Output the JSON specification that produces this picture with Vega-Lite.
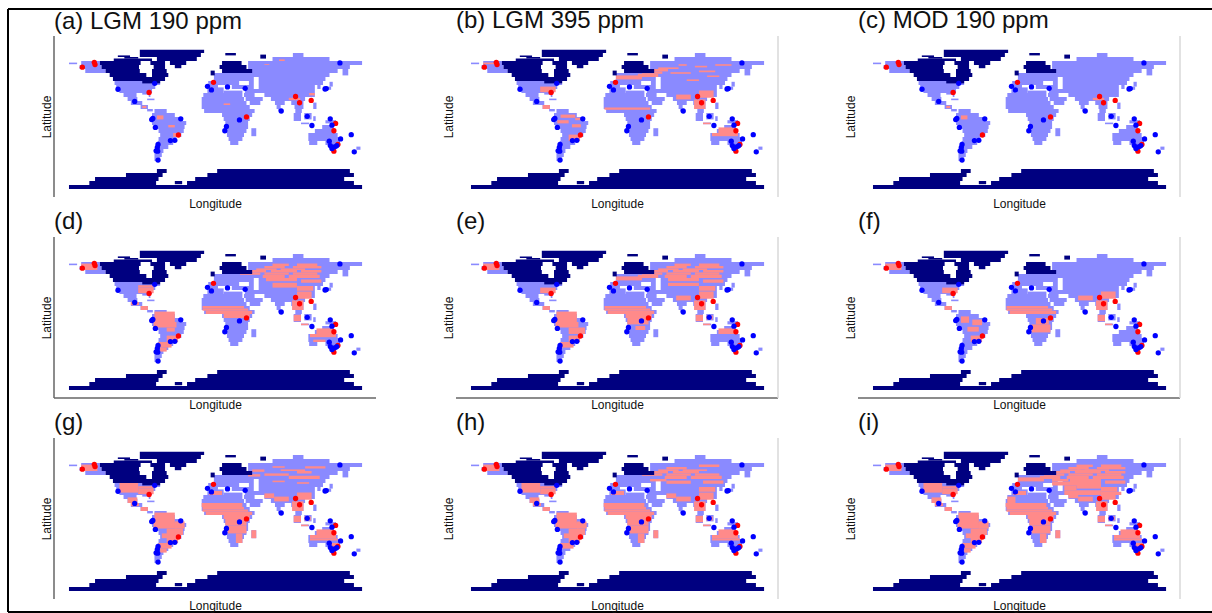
{"$schema":"https://vega.github.io/schema/vega-lite/v6.json","padding":{"left":7,"top":8,"right":0,"bottom":0},"background":"white","bounds":"flush","columns":3,"spacing":{"column":80,"row":40},
"config":{"view":{"stroke":null},"title":{"anchor":"start","frame":"group","fontSize":24,"font":"Liberation Sans","fontWeight":"normal","offset":2,"color":"#111"},"axis":{"labels":false,"ticks":false,"grid":false,"domain":false,"titleFont":"Liberation Sans","titleFontSize":12,"titleFontWeight":"normal","titleColor":"#111","titlePadding":1}},
"datasets":{
"fr":[{"x":-254.9,"e":1224.4,"y":135,"f":135,"c":"F"},{"x":-254.9,"e":1224.4,"y":-618.75,"f":-618.75,"c":"F"},{"x":-254.9,"e":-254.9,"y":135,"f":-618.75,"c":"F"}],
"l":[{"p":"adg","x":-198.4,"e":-198.4,"y":101.25,"f":-100,"c":"A"},{"p":"def","x":-198.4,"e":197.1,"y":-100,"f":-100,"c":"A"},{"p":"bcefhi","x":197.1,"e":197.1,"y":101.25,"f":-100,"c":"R"}],
"s":[{"x":-163.6,"y":62.3,"c":"r"},{"x":-148.9,"y":68.4,"c":"r"},{"x":-148,"y":65.5,"c":"r"},{"x":-81.6,"y":30.6,"c":"r"},{"x":-2.5,"y":43.3,"c":"r"},{"x":38,"y":0.1,"c":"r"},{"x":-45.6,"y":-22.5,"c":"r"},{"x":98.3,"y":25.6,"c":"r"},{"x":103.2,"y":17.8,"c":"r"},{"x":117.5,"y":20.7,"c":"r"},{"x":147.5,"y":-8,"c":"r"},{"x":145.4,"y":-17.2,"c":"r"},{"x":150.3,"y":-34.4,"c":"r"},{"x":145.4,"y":-42.7,"c":"r"},{"x":-119.8,"y":34.7,"c":"b"},{"x":-99.3,"y":19.5,"c":"b"},{"x":-74.7,"y":42.1,"c":"b"},{"x":-9.9,"y":38.4,"c":"b"},{"x":-5,"y":33.9,"c":"b"},{"x":14.7,"y":37.6,"c":"b"},{"x":36.4,"y":35.9,"c":"b"},{"x":80.7,"y":7.5,"c":"b"},{"x":112.6,"y":0.9,"c":"b"},{"x":118.4,"y":-10.6,"c":"b"},{"x":140.9,"y":-2.3,"c":"b"},{"x":143,"y":-10.2,"c":"b"},{"x":152.8,"y":67.6,"c":"b"},{"x":136,"y":35.5,"c":"b"},{"x":134.5,"y":35,"c":"b"},{"x":29.4,"y":-3.6,"c":"b"},{"x":13.4,"y":-11.8,"c":"b"},{"x":11.4,"y":-17.2,"c":"b"},{"x":-42.7,"y":-2.3,"c":"b"},{"x":-78.4,"y":-3.2,"c":"b"},{"x":-77,"y":-1.8,"c":"b"},{"x":-73.9,"y":-13,"c":"b"},{"x":-55.4,"y":-29.5,"c":"b"},{"x":-50,"y":-29.1,"c":"b"},{"x":-70.6,"y":-34.4,"c":"b"},{"x":-71.5,"y":-38,"c":"b"},{"x":-73,"y":-42.3,"c":"b"},{"x":-71,"y":-42.7,"c":"b"},{"x":-70.6,"y":-53.8,"c":"b"},{"x":153.6,"y":-27.4,"c":"b"},{"x":166.7,"y":-22.1,"c":"b"},{"x":170.4,"y":-43.5,"c":"b"},{"x":139.7,"y":-30.3,"c":"b"},{"x":141,"y":-35.7,"c":"b"},{"x":143,"y":-39.4,"c":"b"},{"x":146.2,"y":-37.3,"c":"b"},{"x":149,"y":-35.7,"c":"b"}],
"m":[
{"x":-180,"e":-170,"y":68,"f":66,"c":"L"},{"x":-165,"e":-142,"y":70,"f":65,"c":"L"},{"x":-167,"e":-140,"y":65,"f":60,"c":"L"},{"x":-160,"e":-135,"y":60,"f":55,"c":"L"},
{"x":-125,"e":-90,"y":50,"f":45,"c":"L"},{"x":-124,"e":-68,"y":45,"f":40,"c":"L"},{"x":-122,"e":-74,"y":40,"f":35,"c":"L"},{"x":-118,"e":-78,"y":35,"f":30,"c":"L"},{"x":-113,"e":-97,"y":30,"f":25,"c":"L"},{"x":-90,"e":-81,"y":30,"f":28,"c":"L"},{"x":-82,"e":-80,"y":28,"f":25,"c":"L"},{"x":-108,"e":-96,"y":25,"f":20,"c":"L"},{"x":-104,"e":-90,"y":20,"f":15,"c":"L"},{"x":-92,"e":-83,"y":15,"f":10,"c":"L"},{"x":-84,"e":-77,"y":10,"f":7,"c":"L"},{"x":-84,"e":-75,"y":23,"f":21,"c":"L"},
{"x":-75,"e":-60,"y":10,"f":5,"c":"L"},{"x":-78,"e":-50,"y":5,"f":0,"c":"L"},{"x":-80,"e":-40,"y":0,"f":-5,"c":"L"},{"x":-78,"e":-36,"y":-5,"f":-10,"c":"L"},{"x":-76,"e":-38,"y":-10,"f":-15,"c":"L"},{"x":-70,"e":-39,"y":-15,"f":-20,"c":"L"},{"x":-68,"e":-42,"y":-20,"f":-25,"c":"L"},{"x":-70,"e":-48,"y":-25,"f":-30,"c":"L"},{"x":-71,"e":-52,"y":-30,"f":-35,"c":"L"},{"x":-72,"e":-58,"y":-35,"f":-40,"c":"L"},{"x":-74,"e":-64,"y":-40,"f":-45,"c":"L"},{"x":-75,"e":-66,"y":-45,"f":-50,"c":"L"},{"x":-75,"e":-68,"y":-50,"f":-55,"c":"L"},
{"x":-8,"e":10,"y":37,"f":35,"c":"L"},{"x":-10,"e":10,"y":35,"f":30,"c":"L"},{"x":10,"e":33,"y":33,"f":30,"c":"L"},{"x":-15,"e":33,"y":30,"f":25,"c":"L"},{"x":-17,"e":35,"y":25,"f":20,"c":"L"},{"x":-17,"e":38,"y":20,"f":15,"c":"L"},{"x":-17,"e":42,"y":15,"f":10,"c":"L"},{"x":-14,"e":48,"y":10,"f":5,"c":"L"},{"x":8,"e":45,"y":5,"f":0,"c":"L"},{"x":10,"e":42,"y":0,"f":-5,"c":"L"},{"x":12,"e":40,"y":-5,"f":-10,"c":"L"},{"x":13,"e":40,"y":-10,"f":-15,"c":"L"},{"x":12,"e":38,"y":-15,"f":-20,"c":"L"},{"x":14,"e":35,"y":-20,"f":-25,"c":"L"},{"x":16,"e":33,"y":-25,"f":-30,"c":"L"},{"x":18,"e":28,"y":-30,"f":-35,"c":"L"},{"x":44,"e":50,"y":-14,"f":-24,"c":"L"},
{"x":95,"e":108,"y":80,"f":75,"c":"L"},{"x":70,"e":140,"y":75,"f":70,"c":"L"},{"x":40,"e":180,"y":70,"f":65,"c":"L"},{"x":40,"e":165,"y":65,"f":60,"c":"L"},{"x":40,"e":150,"y":60,"f":55,"c":"L"},{"x":156,"e":163,"y":60,"f":52,"c":"L"},{"x":-2,"e":140,"y":55,"f":50,"c":"L"},{"x":-2,"e":47,"y":50,"f":45,"c":"L"},{"x":53,"e":135,"y":50,"f":45,"c":"L"},{"x":-9,"e":29,"y":45,"f":40,"c":"L"},{"x":41,"e":47,"y":45,"f":40,"c":"L"},{"x":53,"e":132,"y":45,"f":40,"c":"L"},{"x":-9,"e":3,"y":40,"f":35,"c":"L"},{"x":12,"e":17,"y":40,"f":37,"c":"L"},{"x":20,"e":47,"y":40,"f":35,"c":"L"},{"x":53,"e":122,"y":40,"f":35,"c":"L"},{"x":36,"e":122,"y":35,"f":30,"c":"L"},{"x":60,"e":122,"y":30,"f":25,"c":"L"},{"x":35,"e":48,"y":30,"f":25,"c":"L"},{"x":37,"e":58,"y":25,"f":20,"c":"L"},{"x":42,"e":55,"y":20,"f":15,"c":"L"},{"x":68,"e":110,"y":25,"f":20,"c":"L"},{"x":73,"e":85,"y":20,"f":15,"c":"L"},{"x":93,"e":108,"y":20,"f":15,"c":"L"},{"x":75,"e":80,"y":15,"f":10,"c":"L"},{"x":97,"e":108,"y":15,"f":10,"c":"L"},{"x":77,"e":80,"y":10,"f":7,"c":"L"},{"x":98,"e":106,"y":10,"f":5,"c":"L"},{"x":100,"e":104,"y":5,"f":1,"c":"L"},
{"x":125,"e":129,"y":40,"f":35,"c":"L"},{"x":132,"e":142,"y":38,"f":34,"c":"L"},{"x":140,"e":144,"y":44,"f":38,"c":"L"},{"x":120,"e":124,"y":18,"f":10,"c":"L"},{"x":96,"e":105,"y":5,"f":-5,"c":"L"},{"x":109,"e":118,"y":5,"f":-3,"c":"L"},{"x":105,"e":115,"y":-7,"f":-9,"c":"L"},{"x":120,"e":123,"y":1,"f":-5,"c":"L"},{"x":135,"e":148,"y":-4,"f":-8,"c":"L"},
{"x":131,"e":145,"y":-10,"f":-15,"c":"L"},{"x":122,"e":146,"y":-15,"f":-20,"c":"L"},{"x":114,"e":150,"y":-20,"f":-25,"c":"L"},{"x":114,"e":153,"y":-25,"f":-30,"c":"L"},{"x":115,"e":125,"y":-30,"f":-35,"c":"L"},{"x":135,"e":153,"y":-30,"f":-35,"c":"L"},{"x":140,"e":150,"y":-35,"f":-40,"c":"L"},{"x":145,"e":148,"y":-41,"f":-43,"c":"L"},{"x":173,"e":178,"y":-37,"f":-41,"c":"L"},
{"p":"ac","x":-72,"e":-64,"y":2,"f":-3,"c":"P"},{"p":"a","x":-58,"e":-50,"y":-10,"f":-13,"c":"P"},{"p":"a","x":-52,"e":-46,"y":-20,"f":-25,"c":"P"},{"p":"ac","x":-90,"e":-85,"y":14,"f":11,"c":"P"},{"p":"a","x":36,"e":42,"y":1,"f":-2,"c":"P"},{"p":"a","x":10,"e":18,"y":17,"f":15,"c":"P"},{"p":"ac","x":90,"e":104,"y":24,"f":21,"c":"P"},{"p":"a","x":78,"e":85,"y":72,"f":70,"c":"P"},{"p":"a","x":60,"e":66,"y":66,"f":65,"c":"P"},{"p":"a","x":115,"e":122,"y":30,"f":27,"c":"P"},
{"p":"defghi","x":-165,"e":-145,"y":68,"f":60,"c":"P"},{"p":"b","x":-165,"e":-150,"y":68,"f":66,"c":"P"},
{"p":"bdefghi","x":-95,"e":-76,"y":38,"f":31,"c":"P"},{"p":"ghi","x":-118,"e":-95,"y":45,"f":33,"c":"P"},{"p":"dghi","x":-95,"e":-76,"y":41,"f":38,"c":"P"},{"p":"ghi","x":-108,"e":-96,"y":27,"f":20,"c":"P"},{"p":"bdefghi","x":-92,"e":-83,"y":15,"f":10,"c":"P"},{"p":"dghi","x":-104,"e":-94,"y":20,"f":16,"c":"P"},
{"p":"dehgi","x":-75,"e":-50,"y":8,"f":-5,"c":"P"},{"p":"dehgi","x":-76,"e":-48,"y":-5,"f":-12,"c":"P"},{"p":"b","x":-70,"e":-52,"y":3,"f":-1,"c":"P"},{"p":"b","x":-74,"e":-60,"y":-4,"f":-8,"c":"P"},{"p":"b","x":-56,"e":-45,"y":-9,"f":-13,"c":"P"},{"p":"b","x":-52,"e":-44,"y":-1,"f":-4,"c":"P"},{"p":"f","x":-72,"e":-62,"y":2,"f":-6,"c":"P"},{"p":"f","x":-58,"e":-46,"y":-2,"f":-9,"c":"P"},{"p":"f","x":-64,"e":-50,"y":-11,"f":-17,"c":"P"},{"p":"ehgi","x":-60,"e":-40,"y":-12,"f":-20,"c":"P"},{"p":"d","x":-60,"e":-50,"y":-12,"f":-17,"c":"P"},{"p":"ghi","x":-50,"e":-38,"y":-3,"f":-12,"c":"P"},{"p":"bdefghi","x":-60,"e":-46,"y":-22,"f":-30,"c":"P"},{"p":"ghi","x":-66,"e":-48,"y":-18,"f":-24,"c":"P"},{"p":"deghi","x":-70,"e":-54,"y":-30,"f":-37,"c":"P"},{"p":"dgi","x":-68,"e":-60,"y":-37,"f":-42,"c":"P"},
{"p":"bdefghi","x":-16,"e":40,"y":12,"f":9,"c":"P"},{"p":"defghi","x":-16,"e":35,"y":15,"f":12,"c":"P"},{"p":"ghi","x":-17,"e":33,"y":20,"f":15,"c":"P"},{"p":"dehfgi","x":-12,"e":45,"y":9,"f":5,"c":"P"},{"p":"dghie","x":10,"e":42,"y":5,"f":0,"c":"P"},{"p":"eghi","x":12,"e":38,"y":0,"f":-8,"c":"P"},{"p":"f","x":20,"e":36,"y":0,"f":-8,"c":"P"},{"p":"fghi","x":15,"e":38,"y":-8,"f":-18,"c":"P"},{"p":"e","x":22,"e":34,"y":-10,"f":-15,"c":"P"},{"p":"ghi","x":25,"e":33,"y":-18,"f":-30,"c":"P"},{"p":"ghi","x":-8,"e":8,"y":35,"f":30,"c":"P"},{"p":"i","x":-15,"e":-5,"y":28,"f":20,"c":"P"},{"p":"ghi","x":44,"e":50,"y":-14,"f":-24,"c":"P"},
{"p":"bei","x":-2,"e":30,"y":52,"f":47,"c":"P"},{"p":"dei","x":70,"e":90,"y":68,"f":65,"c":"P"},{"p":"dehi","x":100,"e":125,"y":68,"f":65,"c":"P"},{"p":"dehi","x":60,"e":85,"y":65,"f":62,"c":"P"},{"p":"dei","x":95,"e":130,"y":65,"f":62,"c":"P"},{"p":"bdehi","x":50,"e":75,"y":62,"f":60,"c":"P"},{"p":"dehgi","x":80,"e":110,"y":62,"f":60,"c":"P"},{"p":"bdehi","x":35,"e":62,"y":60,"f":57,"c":"P"},{"p":"dehi","x":68,"e":100,"y":60,"f":57,"c":"P"},{"p":"dei","x":105,"e":130,"y":60,"f":57,"c":"P"},{"p":"bdehi","x":30,"e":55,"y":57,"f":54,"c":"P"},{"p":"dehgi","x":60,"e":90,"y":57,"f":54,"c":"P"},{"p":"dehi","x":95,"e":125,"y":57,"f":54,"c":"P"},{"p":"bei","x":25,"e":50,"y":54,"f":50,"c":"P"},{"p":"dehi","x":58,"e":85,"y":54,"f":50,"c":"P"},{"p":"dehgi","x":90,"e":128,"y":54,"f":50,"c":"P"},{"p":"dei","x":62,"e":100,"y":50,"f":46,"c":"P"},{"p":"dehi","x":105,"e":130,"y":48,"f":44,"c":"P"},{"p":"di","x":70,"e":100,"y":44,"f":38,"c":"P"},{"p":"i","x":55,"e":70,"y":42,"f":36,"c":"P"},{"p":"dehi","x":100,"e":120,"y":40,"f":34,"c":"P"},
{"p":"i","x":40,"e":100,"y":47,"f":42,"c":"P"},{"p":"i","x":55,"e":100,"y":36,"f":30,"c":"P"},{"p":"hi","x":40,"e":60,"y":50,"f":47,"c":"P"},{"p":"i","x":100,"e":125,"y":34,"f":30,"c":"P"},{"p":"i","x":70,"e":95,"y":62,"f":60,"c":"P"},{"p":"e","x":62,"e":100,"y":44,"f":40,"c":"P"},{"p":"h","x":60,"e":90,"y":48,"f":44,"c":"P"},
{"p":"b","x":75,"e":85,"y":66,"f":64,"c":"P"},{"p":"b","x":95,"e":110,"y":64,"f":62,"c":"P"},{"p":"b","x":120,"e":140,"y":66,"f":64,"c":"P"},{"p":"b","x":65,"e":90,"y":56,"f":54,"c":"P"},{"p":"b","x":100,"e":120,"y":58,"f":56,"c":"P"},{"p":"b","x":110,"e":125,"y":52,"f":50,"c":"P"},{"p":"b","x":85,"e":100,"y":47,"f":45,"c":"P"},{"p":"g","x":70,"e":85,"y":66,"f":64,"c":"P"},{"p":"g","x":110,"e":135,"y":66,"f":63,"c":"P"},{"p":"g","x":45,"e":60,"y":62,"f":59,"c":"P"},{"p":"g","x":100,"e":118,"y":60,"f":57,"c":"P"},{"p":"g","x":40,"e":55,"y":56,"f":53,"c":"P"},{"p":"g","x":70,"e":85,"y":48,"f":46,"c":"P"},{"p":"g","x":100,"e":115,"y":46,"f":44,"c":"P"},
{"p":"bdefghi","x":100,"e":118,"y":33,"f":24,"c":"P"},{"p":"befghi","x":72,"e":90,"y":28,"f":22,"c":"P"},{"p":"bdefghi","x":94,"e":108,"y":22,"f":10,"c":"P"},{"p":"defghi","x":96,"e":105,"y":4,"f":-4,"c":"P"},{"p":"eghi","x":109,"e":117,"y":3,"f":-2,"c":"P"},{"p":"bdefghi","x":105,"e":114,"y":-7,"f":-9,"c":"P"},{"p":"ghi","x":60,"e":72,"y":32,"f":26,"c":"P"},
{"p":"bdeghi","x":124,"e":145,"y":-13,"f":-20,"c":"P"},{"p":"bdghi","x":116,"e":148,"y":-20,"f":-24,"c":"P"},{"p":"ghi","x":116,"e":150,"y":-24,"f":-27,"c":"P"},{"p":"d","x":120,"e":135,"y":-27,"f":-30,"c":"P"},{"p":"gi","x":142,"e":152,"y":-30,"f":-35,"c":"P"},
{"x":-93,"e":-14,"y":84,"f":80,"c":"I"},{"x":-93,"e":-18,"y":80,"f":75,"c":"I"},{"x":-120,"e":-105,"y":77,"f":75,"c":"I"},{"x":-112,"e":-95,"y":75,"f":73,"c":"I"},{"x":-72,"e":-23,"y":75,"f":70,"c":"I"},{"x":-125,"e":-78,"y":73,"f":70,"c":"I"},{"x":-142,"e":-92,"y":70,"f":65,"c":"I"},{"x":-80,"e":-62,"y":70,"f":65,"c":"I"},{"x":-56,"e":-36,"y":70,"f":65,"c":"I"},{"x":-50,"e":-42,"y":65,"f":61,"c":"I"},{"x":-140,"e":-94,"y":65,"f":60,"c":"I"},{"x":-76,"e":-62,"y":65,"f":60,"c":"I"},{"x":-135,"e":-93,"y":60,"f":55,"c":"I"},{"x":-78,"e":-60,"y":60,"f":55,"c":"I"},{"x":-130,"e":-85,"y":55,"f":50,"c":"I"},{"x":-78,"e":-58,"y":55,"f":50,"c":"I"},{"x":-126,"e":-62,"y":50,"f":45,"c":"I"},{"x":-90,"e":-68,"y":45,"f":42,"c":"I"},
{"x":12,"e":25,"y":80,"f":77,"c":"I"},{"x":55,"e":62,"y":78,"f":73,"c":"I"},{"x":8,"e":32,"y":70,"f":65,"c":"I"},{"x":5,"e":38,"y":65,"f":60,"c":"I"},{"x":8,"e":45,"y":60,"f":55,"c":"I"},{"x":-6,"e":-1,"y":58,"f":52,"c":"I"},
{"x":-180,"e":180,"y":-85,"f":-90,"c":"I"},{"x":-155,"e":-73,"y":-80,"f":-85,"c":"I"},{"x":-50,"e":-41,"y":-80,"f":-84,"c":"I"},{"x":-35,"e":170,"y":-80,"f":-85,"c":"I"},{"x":-148,"e":-70,"y":-75,"f":-80,"c":"I"},{"x":-25,"e":158,"y":-75,"f":-80,"c":"I"},{"x":-110,"e":-65,"y":-70,"f":-75,"c":"I"},{"x":-10,"e":170,"y":-70,"f":-75,"c":"I"},{"x":-72,"e":-60,"y":-65,"f":-70,"c":"I"},{"x":2,"e":165,"y":-65,"f":-70,"c":"I"}
]},
"concat":[
{"title":{"text":"(a) LGM 190 ppm","offset":-26},"width":322,"height":161,"encoding":{"x":{"field":"x","type":"quantitative","scale":{"domain":[-198.4,197.1]},"axis":{"title":"Longitude"}},"y":{"field":"y","type":"quantitative","scale":{"domain":[-100,101.25]},"axis":{"title":"Latitude"}},"color":{"field":"c","type":"nominal","legend":null,"scale":{"domain":["L","P","I","F","A","R","r","b"],"range":["#8a8aff","#ff8a8a","#000080","#000000","#666666","#d9d9d9","#ff0000","#0000ff"]}}},"layer":[{"data":{"name":"m"},"transform":[{"filter":"!datum.p||indexof(datum.p,'a')>=0"}],"mark":"rect","encoding":{"x2":{"field":"e"},"y2":{"field":"f"}}},{"data":{"name":"l"},"transform":[{"filter":"indexof(datum.p,'a')>=0"}],"mark":{"type":"rule","strokeWidth":1.5},"encoding":{"x2":{"field":"e"},"y2":{"field":"f"}}},{"data":{"name":"fr"},"mark":{"type":"rule","strokeWidth":2},"encoding":{"x2":{"field":"e"},"y2":{"field":"f"}}},{"data":{"name":"s"},"mark":{"type":"circle","size":28,"opacity":1}}]},
{"title":"(b) LGM 395 ppm","width":322,"height":161,"encoding":{"x":{"field":"x","type":"quantitative","scale":{"domain":[-198.4,197.1]},"axis":{"title":"Longitude"}},"y":{"field":"y","type":"quantitative","scale":{"domain":[-100,101.25]},"axis":{"title":"Latitude"}},"color":{"field":"c","type":"nominal","legend":null,"scale":{"domain":["L","P","I","F","A","R","r","b"],"range":["#9f9fff","#ff9f9f","#000080","#000000","#666666","#d9d9d9","#ff0000","#0000ff"]}}},"layer":[{"data":{"name":"m"},"transform":[{"filter":"!datum.p||indexof(datum.p,'b')>=0"}],"mark":"rect","encoding":{"x2":{"field":"e"},"y2":{"field":"f"}}},{"data":{"name":"l"},"transform":[{"filter":"indexof(datum.p,'b')>=0"}],"mark":{"type":"rule","strokeWidth":1.5},"encoding":{"x2":{"field":"e"},"y2":{"field":"f"}}},{"data":{"name":"s"},"mark":{"type":"circle","size":28,"opacity":1}}]},
{"title":"(c) MOD 190 ppm","width":322,"height":161,"encoding":{"x":{"field":"x","type":"quantitative","scale":{"domain":[-198.4,197.1]},"axis":{"title":"Longitude"}},"y":{"field":"y","type":"quantitative","scale":{"domain":[-100,101.25]},"axis":{"title":"Latitude"}},"color":{"field":"c","type":"nominal","legend":null,"scale":{"domain":["L","P","I","F","A","R","r","b"],"range":["#8a8aff","#ff8a8a","#000080","#000000","#666666","#d9d9d9","#ff0000","#0000ff"]}}},"layer":[{"data":{"name":"m"},"transform":[{"filter":"!datum.p||indexof(datum.p,'c')>=0"}],"mark":"rect","encoding":{"x2":{"field":"e"},"y2":{"field":"f"}}},{"data":{"name":"l"},"transform":[{"filter":"indexof(datum.p,'c')>=0"}],"mark":{"type":"rule","strokeWidth":1.5},"encoding":{"x2":{"field":"e"},"y2":{"field":"f"}}},{"data":{"name":"s"},"mark":{"type":"circle","size":28,"opacity":1}}]},
{"title":"(d)","width":322,"height":161,"encoding":{"x":{"field":"x","type":"quantitative","scale":{"domain":[-198.4,197.1]},"axis":{"title":"Longitude"}},"y":{"field":"y","type":"quantitative","scale":{"domain":[-100,101.25]},"axis":{"title":"Latitude"}},"color":{"field":"c","type":"nominal","legend":null,"scale":{"domain":["L","P","I","F","A","R","r","b"],"range":["#8a8aff","#ff8a8a","#000080","#000000","#666666","#d9d9d9","#ff0000","#0000ff"]}}},"layer":[{"data":{"name":"m"},"transform":[{"filter":"!datum.p||indexof(datum.p,'d')>=0"}],"mark":"rect","encoding":{"x2":{"field":"e"},"y2":{"field":"f"}}},{"data":{"name":"l"},"transform":[{"filter":"indexof(datum.p,'d')>=0"}],"mark":{"type":"rule","strokeWidth":1.5},"encoding":{"x2":{"field":"e"},"y2":{"field":"f"}}},{"data":{"name":"s"},"mark":{"type":"circle","size":28,"opacity":1}}]},
{"title":"(e)","width":322,"height":161,"encoding":{"x":{"field":"x","type":"quantitative","scale":{"domain":[-198.4,197.1]},"axis":{"title":"Longitude"}},"y":{"field":"y","type":"quantitative","scale":{"domain":[-100,101.25]},"axis":{"title":"Latitude"}},"color":{"field":"c","type":"nominal","legend":null,"scale":{"domain":["L","P","I","F","A","R","r","b"],"range":["#8a8aff","#ff8a8a","#000080","#000000","#666666","#d9d9d9","#ff0000","#0000ff"]}}},"layer":[{"data":{"name":"m"},"transform":[{"filter":"!datum.p||indexof(datum.p,'e')>=0"}],"mark":"rect","encoding":{"x2":{"field":"e"},"y2":{"field":"f"}}},{"data":{"name":"l"},"transform":[{"filter":"indexof(datum.p,'e')>=0"}],"mark":{"type":"rule","strokeWidth":1.5},"encoding":{"x2":{"field":"e"},"y2":{"field":"f"}}},{"data":{"name":"s"},"mark":{"type":"circle","size":28,"opacity":1}}]},
{"title":"(f)","width":322,"height":161,"encoding":{"x":{"field":"x","type":"quantitative","scale":{"domain":[-198.4,197.1]},"axis":{"title":"Longitude"}},"y":{"field":"y","type":"quantitative","scale":{"domain":[-100,101.25]},"axis":{"title":"Latitude"}},"color":{"field":"c","type":"nominal","legend":null,"scale":{"domain":["L","P","I","F","A","R","r","b"],"range":["#8a8aff","#ff8a8a","#000080","#000000","#666666","#d9d9d9","#ff0000","#0000ff"]}}},"layer":[{"data":{"name":"m"},"transform":[{"filter":"!datum.p||indexof(datum.p,'f')>=0"}],"mark":"rect","encoding":{"x2":{"field":"e"},"y2":{"field":"f"}}},{"data":{"name":"l"},"transform":[{"filter":"indexof(datum.p,'f')>=0"}],"mark":{"type":"rule","strokeWidth":1.5},"encoding":{"x2":{"field":"e"},"y2":{"field":"f"}}},{"data":{"name":"s"},"mark":{"type":"circle","size":28,"opacity":1}}]},
{"title":"(g)","width":322,"height":161,"encoding":{"x":{"field":"x","type":"quantitative","scale":{"domain":[-198.4,197.1]},"axis":{"title":"Longitude"}},"y":{"field":"y","type":"quantitative","scale":{"domain":[-100,101.25]},"axis":{"title":"Latitude"}},"color":{"field":"c","type":"nominal","legend":null,"scale":{"domain":["L","P","I","F","A","R","r","b"],"range":["#8a8aff","#ff8a8a","#000080","#000000","#666666","#d9d9d9","#ff0000","#0000ff"]}}},"layer":[{"data":{"name":"m"},"transform":[{"filter":"!datum.p||indexof(datum.p,'g')>=0"}],"mark":"rect","encoding":{"x2":{"field":"e"},"y2":{"field":"f"}}},{"data":{"name":"l"},"transform":[{"filter":"indexof(datum.p,'g')>=0"}],"mark":{"type":"rule","strokeWidth":1.5},"encoding":{"x2":{"field":"e"},"y2":{"field":"f"}}},{"data":{"name":"s"},"mark":{"type":"circle","size":28,"opacity":1}}]},
{"title":"(h)","width":322,"height":161,"encoding":{"x":{"field":"x","type":"quantitative","scale":{"domain":[-198.4,197.1]},"axis":{"title":"Longitude"}},"y":{"field":"y","type":"quantitative","scale":{"domain":[-100,101.25]},"axis":{"title":"Latitude"}},"color":{"field":"c","type":"nominal","legend":null,"scale":{"domain":["L","P","I","F","A","R","r","b"],"range":["#8a8aff","#ff8a8a","#000080","#000000","#666666","#d9d9d9","#ff0000","#0000ff"]}}},"layer":[{"data":{"name":"m"},"transform":[{"filter":"!datum.p||indexof(datum.p,'h')>=0"}],"mark":"rect","encoding":{"x2":{"field":"e"},"y2":{"field":"f"}}},{"data":{"name":"l"},"transform":[{"filter":"indexof(datum.p,'h')>=0"}],"mark":{"type":"rule","strokeWidth":1.5},"encoding":{"x2":{"field":"e"},"y2":{"field":"f"}}},{"data":{"name":"s"},"mark":{"type":"circle","size":28,"opacity":1}}]},
{"title":"(i)","width":322,"height":161,"encoding":{"x":{"field":"x","type":"quantitative","scale":{"domain":[-198.4,197.1]},"axis":{"title":"Longitude"}},"y":{"field":"y","type":"quantitative","scale":{"domain":[-100,101.25]},"axis":{"title":"Latitude"}},"color":{"field":"c","type":"nominal","legend":null,"scale":{"domain":["L","P","I","F","A","R","r","b"],"range":["#8a8aff","#ff8a8a","#000080","#000000","#666666","#d9d9d9","#ff0000","#0000ff"]}}},"layer":[{"data":{"name":"m"},"transform":[{"filter":"!datum.p||indexof(datum.p,'i')>=0"}],"mark":"rect","encoding":{"x2":{"field":"e"},"y2":{"field":"f"}}},{"data":{"name":"l"},"transform":[{"filter":"indexof(datum.p,'i')>=0"}],"mark":{"type":"rule","strokeWidth":1.5},"encoding":{"x2":{"field":"e"},"y2":{"field":"f"}}},{"data":{"name":"s"},"mark":{"type":"circle","size":28,"opacity":1}}]}
]}
